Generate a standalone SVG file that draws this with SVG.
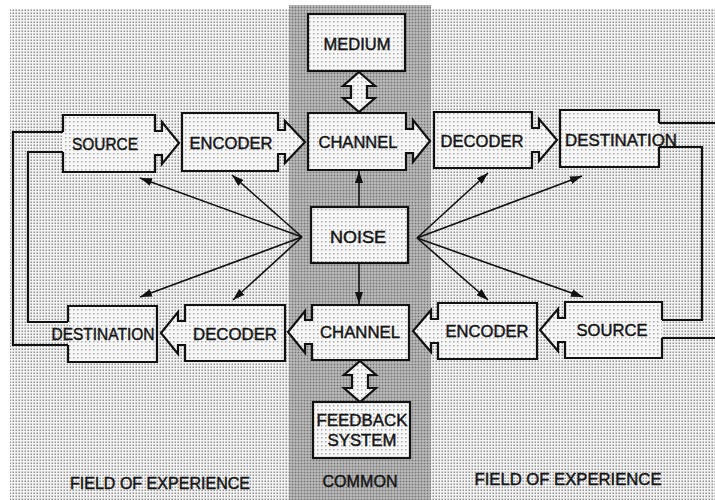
<svg xmlns="http://www.w3.org/2000/svg" width="715" height="500" viewBox="0 0 715 500">
  <defs>
    <!-- halftone textures -->
    <pattern id="fieldDots" width="3" height="3" patternUnits="userSpaceOnUse">
      <rect width="3" height="3" fill="#f3f3f3"/>
      <rect x="0.5" y="0.5" width="1.5" height="1.5" fill="#939393"/>
    </pattern>
    <pattern id="commonDots" width="3" height="3" patternUnits="userSpaceOnUse">
      <rect width="3" height="3" fill="#cdcdcd"/>
      <rect x="0.5" y="0.5" width="2" height="2" fill="#767676"/>
    </pattern>
    <pattern id="boxDots" width="4" height="4" patternUnits="userSpaceOnUse">
      <rect width="4" height="4" fill="#f7f7f7"/>
      <rect x="1" y="1" width="1.5" height="1.5" fill="#a8a8a8"/>
    </pattern>
    <marker id="head" viewBox="0 0 12 8" refX="12" refY="4" markerWidth="12" markerHeight="8" markerUnits="userSpaceOnUse" orient="auto">
      <path d="M0,0 L12,4 L0,8 Z" fill="#111"/>
    </marker>
    <style>
      .box { fill: url(#boxDots); stroke: #111; stroke-width: 2.2; stroke-linejoin: miter; }
      .pipe { fill: none; stroke: #111; stroke-width: 2.2; }
      .ray { fill: none; stroke: #111; stroke-width: 1.6; marker-end: url(#head); }
      .lbl { font-family: "Liberation Sans", Arial, sans-serif; font-size: 17px; fill: #151515; stroke: #151515; stroke-width: 0.45; text-anchor: middle; }
    </style>
  </defs>

  <!-- backgrounds: fields of experience and common column -->
  <rect width="715" height="500" fill="#ffffff"/>
  <rect x="10" y="9" width="705" height="491" fill="url(#fieldDots)"/>
  <rect x="289" y="5" width="142" height="495" fill="url(#commonDots)"/>

  <!-- connectors -->
  <g id="connectors">
    <!-- feedback loop, left -->
    <polyline class="pipe" points="63,132 13,132 13,345 68,345"/>
    <polyline class="pipe" points="63,152 28,152 28,322 68,322"/>
    <!-- feedback loop, right -->
    <polyline class="pipe" points="659,123 716,123"/>
    <polyline class="pipe" points="659,147 702,147 702,320 662,320"/>
    <polyline class="pipe" points="662,338 716,338"/>
    <!-- medium / channel -->
    <path class="box" d="M359,72 L375,86 H367 V98 H375 L359,112 L343,98 H351 V86 H343 Z"/>
    <!-- channel / feedback system -->
    <path class="box" d="M360,361 L376,375 H368 V388 H376 L360,402 L344,388 H352 V375 H344 Z"/>
    <!-- noise -->
    <line class="ray" x1="302" y1="237" x2="140" y2="178"/>
    <line class="ray" x1="302" y1="237" x2="232" y2="175"/>
    <line class="ray" x1="302" y1="237" x2="140" y2="297"/>
    <line class="ray" x1="302" y1="237" x2="233" y2="300"/>
    <line class="ray" x1="417" y1="238" x2="488" y2="173"/>
    <line class="ray" x1="417" y1="238" x2="582" y2="176"/>
    <line class="ray" x1="417" y1="238" x2="488" y2="300"/>
    <line class="ray" x1="417" y1="238" x2="583" y2="297"/>
    <line class="ray" x1="359" y1="207" x2="359" y2="171"/>
    <line class="ray" x1="359" y1="263" x2="359" y2="304"/>
  </g>

  <!-- top row: sender to receiver -->
  <g id="source-top">
    <path class="box" d="M63,132 V115 H155 V131 H162 V122 L179,143 L162,164 V155 H155 V172 H63 V152"/>
    <text class="lbl" x="105" y="150" textLength="66" lengthAdjust="spacingAndGlyphs">SOURCE</text>
  </g>
  <g id="encoder-top">
    <path class="box" d="M182,113 H278 V130 H285 V121 L305,142 L285,163 V154 H278 V171 H182 Z"/>
    <text class="lbl" x="231" y="149" textLength="83" lengthAdjust="spacingAndGlyphs">ENCODER</text>
  </g>
  <g id="channel-top">
    <path class="box" d="M308,113 H406 V129 H413 V120 L430,141 L413,162 V153 H406 V170 H308 Z"/>
    <text class="lbl" x="358" y="148" textLength="79" lengthAdjust="spacingAndGlyphs">CHANNEL</text>
  </g>
  <g id="decoder-top">
    <path class="box" d="M434,112 H532 V128 H539 V119 L557,140 L539,161 V152 H532 V168 H434 Z"/>
    <text class="lbl" x="482" y="147" textLength="83" lengthAdjust="spacingAndGlyphs">DECODER</text>
  </g>
  <g id="destination-top">
    <path class="box" d="M659,123 V110 H560 V167 H659 V147"/>
    <text class="lbl" x="621" y="146" textLength="112" lengthAdjust="spacingAndGlyphs">DESTINATION</text>
  </g>

  <!-- common column -->
  <g id="medium">
    <rect class="box" x="308" y="14" width="97" height="57"/>
    <text class="lbl" x="357" y="50" textLength="67" lengthAdjust="spacingAndGlyphs">MEDIUM</text>
  </g>
  <g id="noise">
    <rect class="box" x="311" y="207" width="97" height="56"/>
    <text class="lbl" x="358" y="243" textLength="56" lengthAdjust="spacingAndGlyphs">NOISE</text>
  </g>
  <g id="feedback-system">
    <rect class="box" x="313" y="402" width="97" height="56"/>
    <text class="lbl" x="362" y="426" textLength="91" lengthAdjust="spacingAndGlyphs">FEEDBACK</text>
    <text class="lbl" x="362" y="446" textLength="69" lengthAdjust="spacingAndGlyphs">SYSTEM</text>
  </g>

  <!-- bottom row: receiver back to sender -->
  <g id="destination-bottom">
    <path class="box" d="M68,322 V306 H157 V362 H68 V345"/>
    <text class="lbl" x="103" y="340" textLength="103" lengthAdjust="spacingAndGlyphs">DESTINATION</text>
  </g>
  <g id="decoder-bottom">
    <path class="box" d="M285,305 V361 H185 V345 H178 V354 L161,333 L178,312 V321 H185 V305 Z"/>
    <text class="lbl" x="235" y="340" textLength="84" lengthAdjust="spacingAndGlyphs">DECODER</text>
  </g>
  <g id="channel-bottom">
    <path class="box" d="M409,305 V360 H312 V344 H305 V353 L288,332 L305,311 V320 H312 V305 Z"/>
    <text class="lbl" x="360" y="338" textLength="80" lengthAdjust="spacingAndGlyphs">CHANNEL</text>
  </g>
  <g id="encoder-bottom">
    <path class="box" d="M537,303 V359 H438 V343 H431 V352 L413,331 L431,310 V319 H438 V303 Z"/>
    <text class="lbl" x="487" y="337" textLength="83" lengthAdjust="spacingAndGlyphs">ENCODER</text>
  </g>
  <g id="source-bottom">
    <path class="box" d="M662,320 V302 H565 V318 H558 V309 L540,330 L558,351 V342 H565 V358 H662 V338"/>
    <text class="lbl" x="612" y="336" textLength="71" lengthAdjust="spacingAndGlyphs">SOURCE</text>
  </g>

  <!-- region captions -->
  <g id="captions">
    <text class="lbl" x="160" y="489" textLength="180" lengthAdjust="spacingAndGlyphs">FIELD OF EXPERIENCE</text>
    <text class="lbl" x="360" y="487" textLength="75" lengthAdjust="spacingAndGlyphs">COMMON</text>
    <text class="lbl" x="568" y="485" textLength="187" lengthAdjust="spacingAndGlyphs">FIELD OF EXPERIENCE</text>
  </g>
</svg>
